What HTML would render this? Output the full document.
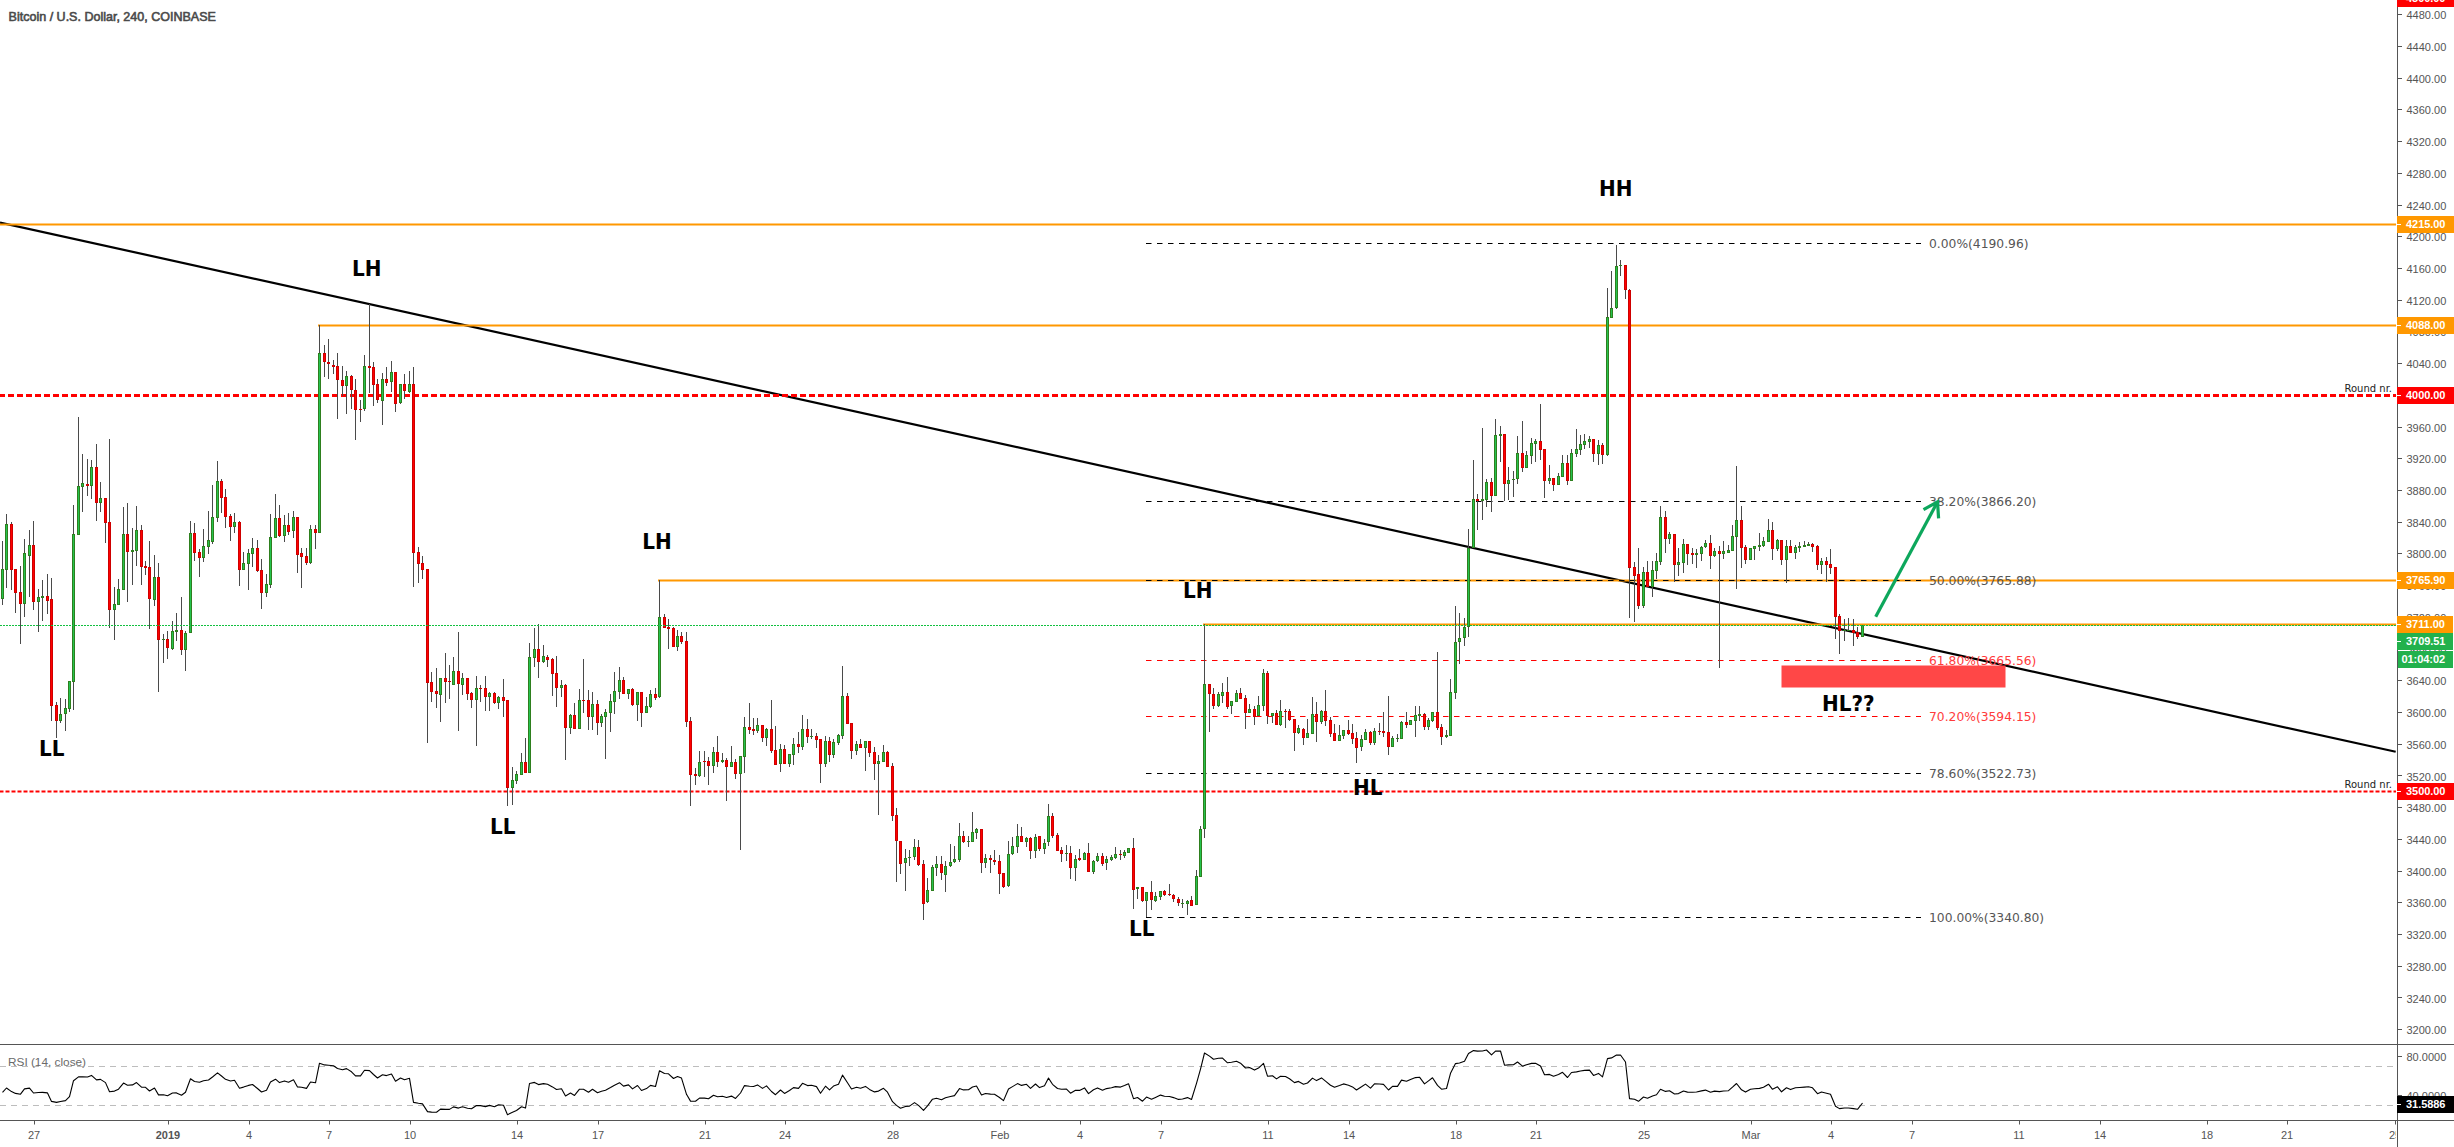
<!DOCTYPE html>
<html lang="en"><head><meta charset="utf-8"><title>Bitcoin / U.S. Dollar, 240, COINBASE</title>
<style>html,body{margin:0;padding:0;background:#fff;}body{width:2454px;height:1147px;overflow:hidden;}</style></head>
<body>
<svg width="2454" height="1147" viewBox="0 0 2454 1147" style="display:block">
<rect x="0" y="0" width="2454" height="1147" fill="#ffffff"/>
<line x1="0" y1="222.5" x2="2395.7" y2="751.8" stroke="#000" stroke-width="2.2"/>
<line x1="0" y1="224.5" x2="2396" y2="224.5" stroke="#FF9800" stroke-width="2"/>
<line x1="318" y1="325.5" x2="2396" y2="325.5" stroke="#FF9800" stroke-width="2"/>
<line x1="658" y1="580.5" x2="2396" y2="580.5" stroke="#FF9800" stroke-width="2"/>
<line x1="1203" y1="624.5" x2="2396" y2="624.5" stroke="#FF9800" stroke-width="2"/>
<line x1="0" y1="395.5" x2="2396" y2="395.5" stroke="#FF0000" stroke-width="3" stroke-dasharray="6 3" stroke-dashoffset="1"/>
<line x1="0" y1="791.5" x2="2396" y2="791.5" stroke="#FF0000" stroke-width="2" stroke-dasharray="4 2" stroke-dashoffset="0.5"/>
<line x1="1146" y1="243.5" x2="1921" y2="243.5" stroke="#000" stroke-width="1" stroke-dasharray="5.5 5.5"/>
<text x="1929" y="247.7" font-family="'DejaVu Sans','Liberation Sans',sans-serif" font-size="12.3" fill="#555">0.00%(4190.96)</text>
<line x1="1146" y1="501.5" x2="1921" y2="501.5" stroke="#000" stroke-width="1" stroke-dasharray="5.5 5.5"/>
<text x="1929" y="505.7" font-family="'DejaVu Sans','Liberation Sans',sans-serif" font-size="12.3" fill="#555">38.20%(3866.20)</text>
<line x1="1146" y1="580.5" x2="1921" y2="580.5" stroke="#000" stroke-width="1" stroke-dasharray="5.5 5.5"/>
<text x="1929" y="584.7" font-family="'DejaVu Sans','Liberation Sans',sans-serif" font-size="12.3" fill="#555">50.00%(3765.88)</text>
<line x1="1146" y1="660.5" x2="1921" y2="660.5" stroke="#FF0000" stroke-width="1" stroke-dasharray="5.5 5.5"/>
<text x="1929" y="664.7" font-family="'DejaVu Sans','Liberation Sans',sans-serif" font-size="12.3" fill="#FF3B3B">61.80%(3665.56)</text>
<line x1="1146" y1="716.5" x2="1921" y2="716.5" stroke="#FF0000" stroke-width="1" stroke-dasharray="5.5 5.5"/>
<text x="1929" y="720.7" font-family="'DejaVu Sans','Liberation Sans',sans-serif" font-size="12.3" fill="#FF3B3B">70.20%(3594.15)</text>
<line x1="1146" y1="773.5" x2="1921" y2="773.5" stroke="#000" stroke-width="1" stroke-dasharray="5.5 5.5"/>
<text x="1929" y="777.7" font-family="'DejaVu Sans','Liberation Sans',sans-serif" font-size="12.3" fill="#555">78.60%(3522.73)</text>
<line x1="1146" y1="917.5" x2="1921" y2="917.5" stroke="#000" stroke-width="1" stroke-dasharray="5.5 5.5"/>
<text x="1929" y="921.7" font-family="'DejaVu Sans','Liberation Sans',sans-serif" font-size="12.3" fill="#555">100.00%(3340.80)</text>
<rect x="1781.5" y="665.5" width="224" height="22" fill="#FF4747"/>
<path d="M2.5 541.0V605.0M6.5 514.0V588.0M11.5 522.0V590.0M15.5 569.0V613.0M20.5 566.0V644.0M24.5 539.0V617.0M29.5 530.0V597.0M33.5 521.0V610.0M38.5 589.0V632.0M42.5 580.0V621.0M47.5 574.0V614.0M51.5 578.0V721.0M56.5 702.0V738.0M60.5 698.0V723.0M65.5 699.0V731.0M69.5 681.0V712.0M73.5 505.0V710.0M78.5 417.0V535.0M82.5 454.0V512.0M87.5 459.0V496.0M91.5 460.0V499.0M96.5 444.0V521.0M100.5 482.0V512.0M105.5 498.0V543.0M109.5 439.0V628.0M114.5 587.0V640.0M118.5 579.0V605.0M123.5 507.0V590.0M127.5 503.0V602.0M132.5 528.0V585.0M136.5 506.0V566.0M141.5 525.0V585.0M145.5 561.0V575.0M149.5 541.0V629.0M154.5 555.0V606.0M158.5 563.0V692.0M163.5 634.0V663.0M167.5 631.0V659.0M172.5 621.0V650.0M176.5 613.0V641.0M181.5 597.0V655.0M185.5 631.0V671.0M190.5 521.0V633.0M194.5 523.0V561.0M199.5 549.0V577.0M203.5 529.0V562.0M208.5 511.0V554.0M212.5 485.0V544.0M217.5 461.0V522.0M221.5 479.0V513.0M225.5 489.0V528.0M230.5 514.0V541.0M234.5 513.0V533.0M239.5 521.0V586.0M243.5 552.0V570.0M248.5 549.0V590.0M252.5 538.0V567.0M257.5 540.0V572.0M261.5 559.0V609.0M266.5 574.0V597.0M270.5 514.0V588.0M275.5 494.0V538.0M279.5 505.0V537.0M284.5 515.0V542.0M288.5 513.0V535.0M293.5 511.0V538.0M297.5 517.0V573.0M301.5 548.0V588.0M306.5 548.0V565.0M310.5 525.0V564.0M315.5 525.0V549.0M319.5 325.0V533.0M324.5 345.0V377.0M328.5 339.0V379.0M333.5 360.0V374.0M337.5 353.0V419.0M342.5 366.0V396.0M346.5 371.0V414.0M351.5 375.0V409.0M355.5 379.0V440.0M360.5 400.0V422.0M364.5 355.0V411.0M369.5 304.0V393.0M373.5 362.0V406.0M377.5 379.0V403.0M382.5 373.0V425.0M386.5 367.0V386.0M391.5 361.0V392.0M395.5 372.0V412.0M400.5 384.0V404.0M404.5 374.0V399.0M409.5 371.0V393.0M413.5 367.0V587.0M418.5 547.0V583.0M422.5 556.0V579.0M427.5 569.0V743.0M431.5 672.0V702.0M436.5 668.0V708.0M440.5 678.0V722.0M445.5 653.0V703.0M449.5 665.0V699.0M453.5 657.0V685.0M458.5 632.0V731.0M462.5 673.0V695.0M467.5 678.0V700.0M471.5 692.0V708.0M476.5 676.0V746.0M480.5 685.0V702.0M485.5 676.0V711.0M489.5 692.0V711.0M494.5 692.0V704.0M498.5 696.0V709.0M503.5 679.0V717.0M507.5 700.0V806.0M512.5 767.0V805.0M516.5 771.0V784.0M521.5 753.0V775.0M525.5 738.0V773.0M529.5 643.0V773.0M534.5 628.0V667.0M538.5 624.0V678.0M543.5 645.0V663.0M547.5 655.0V667.0M552.5 658.0V696.0M556.5 656.0V707.0M561.5 680.0V697.0M565.5 684.0V760.0M570.5 714.0V734.0M574.5 703.0V729.0M579.5 689.0V729.0M583.5 659.0V713.0M588.5 690.0V730.0M592.5 692.0V730.0M597.5 700.0V735.0M601.5 714.0V727.0M605.5 709.0V759.0M610.5 694.0V732.0M614.5 672.0V714.0M619.5 667.0V699.0M623.5 677.0V694.0M628.5 689.0V699.0M632.5 688.0V706.0M637.5 692.0V721.0M641.5 692.0V727.0M646.5 697.0V713.0M650.5 690.0V708.0M655.5 688.0V700.0M659.5 580.0V698.0M664.5 614.0V628.0M668.5 619.0V649.0M673.5 627.0V647.0M677.5 630.0V651.0M681.5 632.0V644.0M686.5 632.0V727.0M690.5 717.0V806.0M695.5 768.0V785.0M699.5 751.0V777.0M704.5 751.0V777.0M708.5 757.0V785.0M713.5 747.0V773.0M717.5 736.0V767.0M722.5 753.0V763.0M726.5 758.0V801.0M731.5 746.0V767.0M735.5 759.0V779.0M740.5 756.0V850.0M744.5 717.0V773.0M749.5 703.0V734.0M753.5 718.0V735.0M757.5 718.0V733.0M762.5 725.0V742.0M766.5 728.0V746.0M771.5 700.0V753.0M775.5 726.0V765.0M780.5 744.0V772.0M784.5 745.0V764.0M789.5 754.0V767.0M793.5 738.0V765.0M798.5 732.0V753.0M802.5 715.0V750.0M807.5 719.0V743.0M811.5 729.0V739.0M816.5 733.0V748.0M820.5 739.0V783.0M825.5 736.0V767.0M829.5 737.0V762.0M833.5 739.0V758.0M838.5 734.0V745.0M842.5 666.0V739.0M847.5 693.0V724.0M851.5 723.0V759.0M856.5 741.0V755.0M860.5 739.0V748.0M865.5 741.0V771.0M869.5 741.0V757.0M874.5 747.0V780.0M878.5 755.0V815.0M883.5 745.0V762.0M887.5 751.0V767.0M892.5 763.0V821.0M896.5 808.0V882.0M900.5 841.0V874.0M905.5 849.0V891.0M909.5 850.0V866.0M914.5 839.0V860.0M918.5 840.0V866.0M923.5 860.0V920.0M927.5 878.0V903.0M932.5 865.0V891.0M936.5 856.0V876.0M941.5 856.0V880.0M945.5 861.0V892.0M950.5 844.0V867.0M954.5 846.0V863.0M959.5 823.0V862.0M963.5 831.0V843.0M968.5 836.0V847.0M972.5 812.0V842.0M976.5 828.0V839.0M981.5 829.0V873.0M985.5 854.0V868.0M990.5 855.0V873.0M994.5 850.0V865.0M999.5 855.0V894.0M1003.5 873.0V888.0M1008.5 841.0V887.0M1012.5 837.0V855.0M1017.5 824.0V853.0M1021.5 827.0V842.0M1026.5 837.0V847.0M1030.5 837.0V859.0M1035.5 834.0V858.0M1039.5 836.0V851.0M1044.5 839.0V854.0M1048.5 804.0V846.0M1052.5 813.0V838.0M1057.5 833.0V851.0M1061.5 847.0V862.0M1066.5 845.0V861.0M1070.5 846.0V879.0M1075.5 855.0V881.0M1079.5 849.0V861.0M1084.5 852.0V860.0M1088.5 843.0V872.0M1093.5 860.0V874.0M1097.5 853.0V862.0M1102.5 853.0V866.0M1106.5 856.0V870.0M1111.5 855.0V861.0M1115.5 847.0V859.0M1120.5 850.0V860.0M1124.5 850.0V858.0M1128.5 848.0V853.0M1133.5 838.0V909.0M1137.5 887.0V899.0M1142.5 887.0V902.0M1146.5 892.0V917.0M1151.5 881.0V910.0M1155.5 892.0V902.0M1160.5 891.0V900.0M1164.5 890.0V896.0M1169.5 884.0V896.0M1173.5 894.0V902.0M1178.5 897.0V906.0M1182.5 899.0V908.0M1187.5 900.0V915.0M1191.5 896.0V906.0M1196.5 870.0V905.0M1200.5 826.0V877.0M1204.5 624.0V838.0M1209.5 684.0V732.0M1213.5 688.0V709.0M1218.5 692.0V707.0M1222.5 683.0V703.0M1227.5 677.0V709.0M1231.5 701.0V714.0M1236.5 690.0V702.0M1240.5 688.0V699.0M1245.5 695.0V729.0M1249.5 704.0V713.0M1254.5 706.0V725.0M1258.5 696.0V716.0M1263.5 669.0V711.0M1267.5 671.0V724.0M1272.5 713.0V723.0M1276.5 710.0V725.0M1280.5 700.0V726.0M1285.5 709.0V728.0M1289.5 709.0V721.0M1294.5 719.0V751.0M1298.5 725.0V734.0M1303.5 728.0V745.0M1307.5 719.0V738.0M1312.5 697.0V734.0M1316.5 702.0V742.0M1321.5 710.0V724.0M1325.5 690.0V726.0M1330.5 717.0V737.0M1334.5 724.0V741.0M1339.5 725.0V741.0M1343.5 730.0V739.0M1348.5 720.0V735.0M1352.5 724.0V744.0M1356.5 732.0V763.0M1361.5 735.0V751.0M1365.5 729.0V740.0M1370.5 731.0V745.0M1374.5 728.0V745.0M1379.5 723.0V735.0M1383.5 712.0V737.0M1388.5 696.0V755.0M1392.5 736.0V747.0M1397.5 734.0V742.0M1401.5 721.0V739.0M1406.5 712.0V728.0M1410.5 720.0V725.0M1415.5 706.0V737.0M1419.5 706.0V721.0M1424.5 713.0V730.0M1428.5 718.0V730.0M1432.5 712.0V722.0M1437.5 652.0V730.0M1441.5 724.0V745.0M1446.5 730.0V738.0M1450.5 679.0V736.0M1455.5 606.0V699.0M1459.5 613.0V664.0M1464.5 618.0V646.0M1468.5 529.0V637.0M1473.5 460.0V548.0M1477.5 494.0V530.0M1482.5 428.0V520.0M1486.5 479.0V507.0M1491.5 478.0V512.0M1495.5 419.0V496.0M1500.5 426.0V462.0M1504.5 434.0V501.0M1508.5 467.0V500.0M1513.5 471.0V497.0M1517.5 436.0V484.0M1522.5 421.0V472.0M1526.5 451.0V468.0M1531.5 438.0V464.0M1535.5 439.0V462.0M1540.5 404.0V460.0M1544.5 449.0V498.0M1549.5 465.0V484.0M1553.5 478.0V491.0M1558.5 473.0V485.0M1562.5 455.0V477.0M1567.5 455.0V485.0M1571.5 449.0V481.0M1576.5 429.0V457.0M1580.5 435.0V455.0M1584.5 434.0V449.0M1589.5 436.0V448.0M1593.5 439.0V462.0M1598.5 440.0V465.0M1602.5 443.0V464.0M1607.5 288.0V456.0M1611.5 271.0V318.0M1616.5 245.0V309.0M1620.5 260.0V276.0M1625.5 265.0V299.0M1629.5 289.0V618.0M1634.5 562.0V622.0M1638.5 548.0V609.0M1643.5 567.0V608.0M1647.5 561.0V587.0M1652.5 561.0V597.0M1656.5 553.0V579.0M1660.5 506.0V565.0M1665.5 511.0V553.0M1669.5 532.0V544.0M1674.5 534.0V582.0M1678.5 548.0V576.0M1683.5 539.0V573.0M1687.5 544.0V565.0M1692.5 548.0V564.0M1696.5 549.0V568.0M1701.5 546.0V561.0M1705.5 540.0V548.0M1710.5 535.0V569.0M1714.5 548.0V557.0M1719.5 546.0V668.0M1723.5 541.0V559.0M1728.5 545.0V553.0M1732.5 525.0V551.0M1736.5 466.0V589.0M1741.5 506.0V568.0M1745.5 545.0V564.0M1750.5 548.0V560.0M1754.5 546.0V560.0M1759.5 533.0V551.0M1763.5 537.0V547.0M1768.5 519.0V542.0M1772.5 522.0V560.0M1777.5 539.0V551.0M1781.5 540.0V565.0M1786.5 540.0V583.0M1790.5 540.0V553.0M1795.5 545.0V559.0M1799.5 542.0V552.0M1804.5 541.0V547.0M1808.5 542.0V546.0M1812.5 543.0V552.0M1817.5 545.0V570.0M1821.5 558.0V574.0M1826.5 557.0V582.0M1830.5 549.0V574.0M1835.5 567.0V639.0M1839.5 614.0V654.0M1844.5 619.0V641.0M1848.5 618.0V631.0M1853.5 619.0V646.0M1857.5 627.0V639.0M1862.5 625.0V637.0" stroke="#4a4a4a" stroke-width="1" fill="none"/>
<path d="M1.0 569.0h3v30.0h-3zM5.0 524.0h3v46.0h-3zM23.0 553.0h3v51.0h-3zM28.0 545.0h3v11.0h-3zM37.0 597.0h3v5.0h-3zM41.0 596.0h3v2.0h-3zM59.0 714.0h3v7.0h-3zM64.0 708.0h3v6.0h-3zM68.0 681.0h3v28.0h-3zM72.0 534.0h3v148.0h-3zM77.0 486.0h3v49.0h-3zM81.0 483.0h3v4.0h-3zM90.0 467.0h3v19.0h-3zM99.0 498.0h3v5.0h-3zM113.0 604.0h3v6.0h-3zM117.0 589.0h3v16.0h-3zM122.0 534.0h3v56.0h-3zM131.0 550.0h3v2.0h-3zM135.0 530.0h3v21.0h-3zM153.0 577.0h3v23.0h-3zM162.0 639.0h3v1.0h-3zM171.0 631.0h3v18.0h-3zM175.0 630.0h3v2.0h-3zM184.0 633.0h3v17.0h-3zM189.0 533.0h3v100.0h-3zM202.0 546.0h3v12.0h-3zM207.0 540.0h3v7.0h-3zM211.0 517.0h3v25.0h-3zM216.0 481.0h3v37.0h-3zM233.0 522.0h3v5.0h-3zM242.0 563.0h3v7.0h-3zM247.0 553.0h3v11.0h-3zM251.0 548.0h3v6.0h-3zM265.0 584.0h3v9.0h-3zM269.0 537.0h3v48.0h-3zM274.0 518.0h3v20.0h-3zM283.0 525.0h3v11.0h-3zM292.0 517.0h3v14.0h-3zM309.0 529.0h3v34.0h-3zM318.0 353.0h3v180.0h-3zM345.0 376.0h3v10.0h-3zM363.0 366.0h3v43.0h-3zM381.0 379.0h3v22.0h-3zM390.0 372.0h3v10.0h-3zM399.0 384.0h3v19.0h-3zM408.0 384.0h3v8.0h-3zM439.0 678.0h3v17.0h-3zM452.0 671.0h3v14.0h-3zM461.0 678.0h3v7.0h-3zM475.0 688.0h3v12.0h-3zM488.0 693.0h3v4.0h-3zM497.0 697.0h3v6.0h-3zM511.0 780.0h3v8.0h-3zM515.0 774.0h3v7.0h-3zM520.0 762.0h3v13.0h-3zM528.0 657.0h3v116.0h-3zM533.0 649.0h3v9.0h-3zM542.0 656.0h3v6.0h-3zM560.0 685.0h3v3.0h-3zM569.0 715.0h3v13.0h-3zM578.0 700.0h3v29.0h-3zM591.0 704.0h3v13.0h-3zM600.0 716.0h3v7.0h-3zM604.0 712.0h3v5.0h-3zM609.0 701.0h3v12.0h-3zM613.0 691.0h3v11.0h-3zM618.0 680.0h3v12.0h-3zM627.0 689.0h3v5.0h-3zM636.0 692.0h3v13.0h-3zM645.0 706.0h3v7.0h-3zM649.0 694.0h3v13.0h-3zM658.0 617.0h3v80.0h-3zM676.0 636.0h3v11.0h-3zM698.0 762.0h3v14.0h-3zM712.0 752.0h3v14.0h-3zM721.0 760.0h3v2.0h-3zM730.0 762.0h3v5.0h-3zM739.0 756.0h3v18.0h-3zM743.0 727.0h3v30.0h-3zM756.0 725.0h3v6.0h-3zM765.0 729.0h3v9.0h-3zM779.0 749.0h3v15.0h-3zM788.0 754.0h3v10.0h-3zM792.0 744.0h3v11.0h-3zM801.0 729.0h3v18.0h-3zM810.0 736.0h3v1.0h-3zM824.0 741.0h3v23.0h-3zM832.0 742.0h3v13.0h-3zM837.0 735.0h3v8.0h-3zM841.0 696.0h3v40.0h-3zM855.0 744.0h3v7.0h-3zM864.0 741.0h3v7.0h-3zM877.0 761.0h3v3.0h-3zM882.0 752.0h3v10.0h-3zM904.0 858.0h3v5.0h-3zM908.0 857.0h3v1.0h-3zM913.0 847.0h3v10.0h-3zM926.0 890.0h3v12.0h-3zM931.0 867.0h3v24.0h-3zM935.0 864.0h3v4.0h-3zM944.0 866.0h3v9.0h-3zM949.0 862.0h3v4.0h-3zM953.0 859.0h3v3.0h-3zM958.0 836.0h3v24.0h-3zM967.0 841.0h3v1.0h-3zM971.0 832.0h3v10.0h-3zM975.0 829.0h3v4.0h-3zM984.0 858.0h3v5.0h-3zM1007.0 854.0h3v32.0h-3zM1011.0 846.0h3v8.0h-3zM1016.0 836.0h3v11.0h-3zM1025.0 838.0h3v4.0h-3zM1034.0 837.0h3v14.0h-3zM1043.0 843.0h3v6.0h-3zM1047.0 816.0h3v26.0h-3zM1065.0 853.0h3v1.0h-3zM1074.0 859.0h3v9.0h-3zM1083.0 853.0h3v7.0h-3zM1092.0 861.0h3v11.0h-3zM1096.0 856.0h3v5.0h-3zM1105.0 859.0h3v4.0h-3zM1110.0 857.0h3v3.0h-3zM1114.0 854.0h3v4.0h-3zM1123.0 852.0h3v4.0h-3zM1127.0 848.0h3v5.0h-3zM1136.0 887.0h3v2.0h-3zM1145.0 892.0h3v9.0h-3zM1154.0 896.0h3v5.0h-3zM1159.0 891.0h3v6.0h-3zM1181.0 903.0h3v1.0h-3zM1186.0 901.0h3v3.0h-3zM1195.0 876.0h3v29.0h-3zM1199.0 829.0h3v48.0h-3zM1203.0 684.0h3v145.0h-3zM1217.0 694.0h3v12.0h-3zM1221.0 692.0h3v4.0h-3zM1230.0 701.0h3v5.0h-3zM1235.0 693.0h3v9.0h-3zM1248.0 709.0h3v4.0h-3zM1257.0 705.0h3v11.0h-3zM1262.0 673.0h3v33.0h-3zM1271.0 713.0h3v3.0h-3zM1279.0 711.0h3v14.0h-3zM1297.0 728.0h3v5.0h-3zM1306.0 733.0h3v5.0h-3zM1311.0 714.0h3v20.0h-3zM1320.0 711.0h3v11.0h-3zM1338.0 735.0h3v6.0h-3zM1342.0 730.0h3v6.0h-3zM1360.0 739.0h3v8.0h-3zM1364.0 732.0h3v8.0h-3zM1373.0 731.0h3v12.0h-3zM1391.0 738.0h3v9.0h-3zM1396.0 738.0h3v1.0h-3zM1400.0 722.0h3v17.0h-3zM1409.0 720.0h3v5.0h-3zM1414.0 715.0h3v6.0h-3zM1418.0 714.0h3v2.0h-3zM1427.0 720.0h3v7.0h-3zM1431.0 712.0h3v9.0h-3zM1445.0 735.0h3v2.0h-3zM1449.0 692.0h3v44.0h-3zM1454.0 642.0h3v51.0h-3zM1458.0 638.0h3v4.0h-3zM1463.0 627.0h3v11.0h-3zM1467.0 548.0h3v79.0h-3zM1472.0 499.0h3v49.0h-3zM1481.0 499.0h3v2.0h-3zM1485.0 482.0h3v18.0h-3zM1494.0 435.0h3v61.0h-3zM1499.0 434.0h3v2.0h-3zM1507.0 480.0h3v4.0h-3zM1512.0 479.0h3v1.0h-3zM1516.0 453.0h3v26.0h-3zM1525.0 455.0h3v13.0h-3zM1530.0 443.0h3v13.0h-3zM1534.0 441.0h3v3.0h-3zM1548.0 478.0h3v3.0h-3zM1557.0 476.0h3v9.0h-3zM1561.0 463.0h3v14.0h-3zM1570.0 453.0h3v28.0h-3zM1575.0 449.0h3v5.0h-3zM1579.0 444.0h3v6.0h-3zM1583.0 441.0h3v4.0h-3zM1588.0 439.0h3v3.0h-3zM1597.0 445.0h3v9.0h-3zM1606.0 317.0h3v138.0h-3zM1610.0 308.0h3v10.0h-3zM1615.0 266.0h3v42.0h-3zM1619.0 265.0h3v1.0h-3zM1642.0 572.0h3v34.0h-3zM1651.0 570.0h3v17.0h-3zM1655.0 561.0h3v10.0h-3zM1659.0 517.0h3v45.0h-3zM1668.0 534.0h3v5.0h-3zM1677.0 562.0h3v3.0h-3zM1682.0 544.0h3v19.0h-3zM1695.0 553.0h3v2.0h-3zM1700.0 547.0h3v7.0h-3zM1704.0 543.0h3v4.0h-3zM1713.0 551.0h3v5.0h-3zM1722.0 551.0h3v3.0h-3zM1727.0 550.0h3v3.0h-3zM1731.0 536.0h3v15.0h-3zM1735.0 520.0h3v17.0h-3zM1749.0 548.0h3v12.0h-3zM1753.0 546.0h3v3.0h-3zM1758.0 545.0h3v2.0h-3zM1762.0 541.0h3v5.0h-3zM1767.0 530.0h3v12.0h-3zM1776.0 540.0h3v9.0h-3zM1785.0 546.0h3v14.0h-3zM1794.0 547.0h3v6.0h-3zM1798.0 546.0h3v2.0h-3zM1803.0 545.0h3v2.0h-3zM1807.0 544.0h3v2.0h-3zM1820.0 561.0h3v4.0h-3zM1843.0 630.0h3v1.0h-3zM1847.0 630.0h3v1.0h-3zM1861.0 625.0h3v12.0h-3z" fill="#2E7F1E"/>
<path d="M2.0 570.0h1v28.0h-1zM6.0 525.0h1v44.0h-1zM24.0 554.0h1v49.0h-1zM29.0 546.0h1v9.0h-1zM38.0 598.0h1v3.0h-1zM60.0 715.0h1v5.0h-1zM65.0 709.0h1v4.0h-1zM69.0 682.0h1v26.0h-1zM73.0 535.0h1v146.0h-1zM78.0 487.0h1v47.0h-1zM82.0 484.0h1v2.0h-1zM91.0 468.0h1v17.0h-1zM100.0 499.0h1v3.0h-1zM114.0 605.0h1v4.0h-1zM118.0 590.0h1v14.0h-1zM123.0 535.0h1v54.0h-1zM136.0 531.0h1v19.0h-1zM154.0 578.0h1v21.0h-1zM172.0 632.0h1v16.0h-1zM185.0 634.0h1v15.0h-1zM190.0 534.0h1v98.0h-1zM203.0 547.0h1v10.0h-1zM208.0 541.0h1v5.0h-1zM212.0 518.0h1v23.0h-1zM217.0 482.0h1v35.0h-1zM234.0 523.0h1v3.0h-1zM243.0 564.0h1v5.0h-1zM248.0 554.0h1v9.0h-1zM252.0 549.0h1v4.0h-1zM266.0 585.0h1v7.0h-1zM270.0 538.0h1v46.0h-1zM275.0 519.0h1v18.0h-1zM284.0 526.0h1v9.0h-1zM293.0 518.0h1v12.0h-1zM310.0 530.0h1v32.0h-1zM319.0 354.0h1v178.0h-1zM346.0 377.0h1v8.0h-1zM364.0 367.0h1v41.0h-1zM382.0 380.0h1v20.0h-1zM391.0 373.0h1v8.0h-1zM400.0 385.0h1v17.0h-1zM409.0 385.0h1v6.0h-1zM440.0 679.0h1v15.0h-1zM453.0 672.0h1v12.0h-1zM462.0 679.0h1v5.0h-1zM476.0 689.0h1v10.0h-1zM489.0 694.0h1v2.0h-1zM498.0 698.0h1v4.0h-1zM512.0 781.0h1v6.0h-1zM516.0 775.0h1v5.0h-1zM521.0 763.0h1v11.0h-1zM529.0 658.0h1v114.0h-1zM534.0 650.0h1v7.0h-1zM543.0 657.0h1v4.0h-1zM561.0 686.0h1v1.0h-1zM570.0 716.0h1v11.0h-1zM579.0 701.0h1v27.0h-1zM592.0 705.0h1v11.0h-1zM601.0 717.0h1v5.0h-1zM605.0 713.0h1v3.0h-1zM610.0 702.0h1v10.0h-1zM614.0 692.0h1v9.0h-1zM619.0 681.0h1v10.0h-1zM628.0 690.0h1v3.0h-1zM637.0 693.0h1v11.0h-1zM646.0 707.0h1v5.0h-1zM650.0 695.0h1v11.0h-1zM659.0 618.0h1v78.0h-1zM677.0 637.0h1v9.0h-1zM699.0 763.0h1v12.0h-1zM713.0 753.0h1v12.0h-1zM731.0 763.0h1v3.0h-1zM740.0 757.0h1v16.0h-1zM744.0 728.0h1v28.0h-1zM757.0 726.0h1v4.0h-1zM766.0 730.0h1v7.0h-1zM780.0 750.0h1v13.0h-1zM789.0 755.0h1v8.0h-1zM793.0 745.0h1v9.0h-1zM802.0 730.0h1v16.0h-1zM825.0 742.0h1v21.0h-1zM833.0 743.0h1v11.0h-1zM838.0 736.0h1v6.0h-1zM842.0 697.0h1v38.0h-1zM856.0 745.0h1v5.0h-1zM865.0 742.0h1v5.0h-1zM878.0 762.0h1v1.0h-1zM883.0 753.0h1v8.0h-1zM905.0 859.0h1v3.0h-1zM914.0 848.0h1v8.0h-1zM927.0 891.0h1v10.0h-1zM932.0 868.0h1v22.0h-1zM936.0 865.0h1v2.0h-1zM945.0 867.0h1v7.0h-1zM950.0 863.0h1v2.0h-1zM954.0 860.0h1v1.0h-1zM959.0 837.0h1v22.0h-1zM972.0 833.0h1v8.0h-1zM976.0 830.0h1v2.0h-1zM985.0 859.0h1v3.0h-1zM1008.0 855.0h1v30.0h-1zM1012.0 847.0h1v6.0h-1zM1017.0 837.0h1v9.0h-1zM1026.0 839.0h1v2.0h-1zM1035.0 838.0h1v12.0h-1zM1044.0 844.0h1v4.0h-1zM1048.0 817.0h1v24.0h-1zM1075.0 860.0h1v7.0h-1zM1084.0 854.0h1v5.0h-1zM1093.0 862.0h1v9.0h-1zM1097.0 857.0h1v3.0h-1zM1106.0 860.0h1v2.0h-1zM1111.0 858.0h1v1.0h-1zM1115.0 855.0h1v2.0h-1zM1124.0 853.0h1v2.0h-1zM1128.0 849.0h1v3.0h-1zM1146.0 893.0h1v7.0h-1zM1155.0 897.0h1v3.0h-1zM1160.0 892.0h1v4.0h-1zM1187.0 902.0h1v1.0h-1zM1196.0 877.0h1v27.0h-1zM1200.0 830.0h1v46.0h-1zM1204.0 685.0h1v143.0h-1zM1218.0 695.0h1v10.0h-1zM1222.0 693.0h1v2.0h-1zM1231.0 702.0h1v3.0h-1zM1236.0 694.0h1v7.0h-1zM1249.0 710.0h1v2.0h-1zM1258.0 706.0h1v9.0h-1zM1263.0 674.0h1v31.0h-1zM1272.0 714.0h1v1.0h-1zM1280.0 712.0h1v12.0h-1zM1298.0 729.0h1v3.0h-1zM1307.0 734.0h1v3.0h-1zM1312.0 715.0h1v18.0h-1zM1321.0 712.0h1v9.0h-1zM1339.0 736.0h1v4.0h-1zM1343.0 731.0h1v4.0h-1zM1361.0 740.0h1v6.0h-1zM1365.0 733.0h1v6.0h-1zM1374.0 732.0h1v10.0h-1zM1392.0 739.0h1v7.0h-1zM1401.0 723.0h1v15.0h-1zM1410.0 721.0h1v3.0h-1zM1415.0 716.0h1v4.0h-1zM1428.0 721.0h1v5.0h-1zM1432.0 713.0h1v7.0h-1zM1450.0 693.0h1v42.0h-1zM1455.0 643.0h1v49.0h-1zM1459.0 639.0h1v2.0h-1zM1464.0 628.0h1v9.0h-1zM1468.0 549.0h1v77.0h-1zM1473.0 500.0h1v47.0h-1zM1486.0 483.0h1v16.0h-1zM1495.0 436.0h1v59.0h-1zM1508.0 481.0h1v2.0h-1zM1517.0 454.0h1v24.0h-1zM1526.0 456.0h1v11.0h-1zM1531.0 444.0h1v11.0h-1zM1535.0 442.0h1v1.0h-1zM1549.0 479.0h1v1.0h-1zM1558.0 477.0h1v7.0h-1zM1562.0 464.0h1v12.0h-1zM1571.0 454.0h1v26.0h-1zM1576.0 450.0h1v3.0h-1zM1580.0 445.0h1v4.0h-1zM1584.0 442.0h1v2.0h-1zM1589.0 440.0h1v1.0h-1zM1598.0 446.0h1v7.0h-1zM1607.0 318.0h1v136.0h-1zM1611.0 309.0h1v8.0h-1zM1616.0 267.0h1v40.0h-1zM1643.0 573.0h1v32.0h-1zM1652.0 571.0h1v15.0h-1zM1656.0 562.0h1v8.0h-1zM1660.0 518.0h1v43.0h-1zM1669.0 535.0h1v3.0h-1zM1678.0 563.0h1v1.0h-1zM1683.0 545.0h1v17.0h-1zM1701.0 548.0h1v5.0h-1zM1705.0 544.0h1v2.0h-1zM1714.0 552.0h1v3.0h-1zM1723.0 552.0h1v1.0h-1zM1728.0 551.0h1v1.0h-1zM1732.0 537.0h1v13.0h-1zM1736.0 521.0h1v15.0h-1zM1750.0 549.0h1v10.0h-1zM1754.0 547.0h1v1.0h-1zM1763.0 542.0h1v3.0h-1zM1768.0 531.0h1v10.0h-1zM1777.0 541.0h1v7.0h-1zM1786.0 547.0h1v12.0h-1zM1795.0 548.0h1v4.0h-1zM1821.0 562.0h1v2.0h-1zM1862.0 626.0h1v10.0h-1z" fill="#24C34E"/>
<path d="M10.0 524.0h3v46.0h-3zM14.0 569.0h3v24.0h-3zM19.0 592.0h3v12.0h-3zM32.0 545.0h3v57.0h-3zM46.0 596.0h3v5.0h-3zM50.0 599.0h3v107.0h-3zM55.0 705.0h3v16.0h-3zM86.0 484.0h3v2.0h-3zM95.0 467.0h3v36.0h-3zM104.0 498.0h3v25.0h-3zM108.0 522.0h3v88.0h-3zM126.0 534.0h3v18.0h-3zM140.0 530.0h3v37.0h-3zM144.0 566.0h3v2.0h-3zM148.0 567.0h3v32.0h-3zM157.0 577.0h3v63.0h-3zM166.0 639.0h3v9.0h-3zM180.0 630.0h3v20.0h-3zM193.0 533.0h3v20.0h-3zM198.0 552.0h3v6.0h-3zM220.0 481.0h3v17.0h-3zM224.0 497.0h3v20.0h-3zM229.0 516.0h3v11.0h-3zM238.0 522.0h3v48.0h-3zM256.0 548.0h3v23.0h-3zM260.0 570.0h3v23.0h-3zM278.0 518.0h3v18.0h-3zM287.0 525.0h3v7.0h-3zM296.0 517.0h3v38.0h-3zM300.0 553.0h3v4.0h-3zM305.0 556.0h3v7.0h-3zM314.0 529.0h3v4.0h-3zM323.0 353.0h3v9.0h-3zM327.0 362.0h3v2.0h-3zM332.0 365.0h3v2.0h-3zM336.0 366.0h3v14.0h-3zM341.0 380.0h3v6.0h-3zM350.0 376.0h3v14.0h-3zM354.0 390.0h3v20.0h-3zM359.0 409.0h3v1.0h-3zM368.0 366.0h3v2.0h-3zM372.0 367.0h3v18.0h-3zM376.0 384.0h3v16.0h-3zM385.0 379.0h3v4.0h-3zM394.0 372.0h3v32.0h-3zM403.0 384.0h3v7.0h-3zM412.0 384.0h3v169.0h-3zM417.0 552.0h3v12.0h-3zM421.0 563.0h3v7.0h-3zM426.0 569.0h3v114.0h-3zM430.0 682.0h3v10.0h-3zM435.0 691.0h3v3.0h-3zM444.0 678.0h3v4.0h-3zM448.0 681.0h3v1.0h-3zM457.0 671.0h3v13.0h-3zM466.0 678.0h3v16.0h-3zM470.0 693.0h3v7.0h-3zM479.0 688.0h3v1.0h-3zM484.0 688.0h3v9.0h-3zM493.0 693.0h3v10.0h-3zM502.0 697.0h3v4.0h-3zM506.0 700.0h3v88.0h-3zM524.0 762.0h3v11.0h-3zM537.0 649.0h3v13.0h-3zM546.0 657.0h3v3.0h-3zM551.0 659.0h3v15.0h-3zM555.0 673.0h3v15.0h-3zM564.0 685.0h3v43.0h-3zM573.0 715.0h3v14.0h-3zM582.0 700.0h3v1.0h-3zM587.0 700.0h3v17.0h-3zM596.0 704.0h3v19.0h-3zM622.0 680.0h3v14.0h-3zM631.0 689.0h3v16.0h-3zM640.0 692.0h3v21.0h-3zM654.0 694.0h3v4.0h-3zM663.0 617.0h3v11.0h-3zM667.0 627.0h3v2.0h-3zM672.0 628.0h3v19.0h-3zM680.0 636.0h3v6.0h-3zM685.0 641.0h3v81.0h-3zM689.0 721.0h3v54.0h-3zM694.0 774.0h3v2.0h-3zM703.0 761.0h3v1.0h-3zM707.0 761.0h3v5.0h-3zM716.0 752.0h3v10.0h-3zM725.0 760.0h3v7.0h-3zM734.0 762.0h3v12.0h-3zM748.0 727.0h3v3.0h-3zM752.0 729.0h3v2.0h-3zM761.0 725.0h3v13.0h-3zM770.0 729.0h3v22.0h-3zM774.0 750.0h3v15.0h-3zM783.0 749.0h3v15.0h-3zM797.0 744.0h3v3.0h-3zM806.0 729.0h3v8.0h-3zM815.0 736.0h3v4.0h-3zM819.0 739.0h3v25.0h-3zM828.0 741.0h3v14.0h-3zM846.0 696.0h3v28.0h-3zM850.0 723.0h3v28.0h-3zM859.0 744.0h3v4.0h-3zM868.0 741.0h3v12.0h-3zM873.0 752.0h3v12.0h-3zM886.0 752.0h3v15.0h-3zM891.0 766.0h3v50.0h-3zM895.0 815.0h3v26.0h-3zM899.0 841.0h3v23.0h-3zM917.0 847.0h3v18.0h-3zM922.0 864.0h3v40.0h-3zM940.0 864.0h3v9.0h-3zM962.0 836.0h3v6.0h-3zM980.0 829.0h3v34.0h-3zM989.0 858.0h3v2.0h-3zM993.0 860.0h3v2.0h-3zM998.0 861.0h3v13.0h-3zM1002.0 873.0h3v14.0h-3zM1020.0 836.0h3v6.0h-3zM1029.0 838.0h3v13.0h-3zM1038.0 836.0h3v13.0h-3zM1051.0 816.0h3v20.0h-3zM1056.0 835.0h3v16.0h-3zM1060.0 850.0h3v4.0h-3zM1069.0 853.0h3v15.0h-3zM1078.0 858.0h3v2.0h-3zM1087.0 853.0h3v19.0h-3zM1101.0 856.0h3v8.0h-3zM1119.0 854.0h3v1.0h-3zM1132.0 848.0h3v42.0h-3zM1141.0 887.0h3v14.0h-3zM1150.0 892.0h3v8.0h-3zM1163.0 891.0h3v4.0h-3zM1168.0 894.0h3v1.0h-3zM1172.0 895.0h3v4.0h-3zM1177.0 899.0h3v4.0h-3zM1190.0 900.0h3v6.0h-3zM1208.0 684.0h3v10.0h-3zM1212.0 694.0h3v12.0h-3zM1226.0 692.0h3v15.0h-3zM1239.0 693.0h3v6.0h-3zM1244.0 698.0h3v15.0h-3zM1253.0 709.0h3v8.0h-3zM1266.0 673.0h3v43.0h-3zM1275.0 713.0h3v12.0h-3zM1284.0 711.0h3v1.0h-3zM1288.0 711.0h3v9.0h-3zM1293.0 719.0h3v14.0h-3zM1302.0 729.0h3v9.0h-3zM1315.0 714.0h3v8.0h-3zM1324.0 711.0h3v10.0h-3zM1329.0 720.0h3v14.0h-3zM1333.0 733.0h3v8.0h-3zM1347.0 730.0h3v4.0h-3zM1351.0 733.0h3v6.0h-3zM1355.0 738.0h3v10.0h-3zM1369.0 732.0h3v11.0h-3zM1378.0 731.0h3v1.0h-3zM1382.0 731.0h3v2.0h-3zM1387.0 732.0h3v15.0h-3zM1405.0 722.0h3v3.0h-3zM1423.0 714.0h3v13.0h-3zM1436.0 712.0h3v16.0h-3zM1440.0 727.0h3v10.0h-3zM1476.0 499.0h3v2.0h-3zM1490.0 482.0h3v14.0h-3zM1503.0 434.0h3v50.0h-3zM1521.0 453.0h3v15.0h-3zM1539.0 441.0h3v9.0h-3zM1543.0 449.0h3v32.0h-3zM1552.0 478.0h3v7.0h-3zM1566.0 463.0h3v18.0h-3zM1592.0 439.0h3v15.0h-3zM1601.0 445.0h3v10.0h-3zM1624.0 265.0h3v25.0h-3zM1628.0 290.0h3v278.0h-3zM1633.0 567.0h3v9.0h-3zM1637.0 574.0h3v32.0h-3zM1646.0 572.0h3v15.0h-3zM1664.0 517.0h3v22.0h-3zM1673.0 534.0h3v31.0h-3zM1686.0 544.0h3v10.0h-3zM1691.0 553.0h3v2.0h-3zM1709.0 543.0h3v13.0h-3zM1718.0 551.0h3v3.0h-3zM1740.0 520.0h3v28.0h-3zM1744.0 547.0h3v13.0h-3zM1771.0 530.0h3v19.0h-3zM1780.0 540.0h3v20.0h-3zM1789.0 546.0h3v7.0h-3zM1811.0 544.0h3v3.0h-3zM1816.0 546.0h3v19.0h-3zM1825.0 561.0h3v4.0h-3zM1829.0 564.0h3v4.0h-3zM1834.0 567.0h3v50.0h-3zM1838.0 616.0h3v15.0h-3zM1852.0 630.0h3v3.0h-3zM1856.0 632.0h3v5.0h-3z" fill="#CE0000"/>
<path d="M11.0 525.0h1v44.0h-1zM15.0 570.0h1v22.0h-1zM20.0 593.0h1v10.0h-1zM33.0 546.0h1v55.0h-1zM47.0 597.0h1v3.0h-1zM51.0 600.0h1v105.0h-1zM56.0 706.0h1v14.0h-1zM96.0 468.0h1v34.0h-1zM105.0 499.0h1v23.0h-1zM109.0 523.0h1v86.0h-1zM127.0 535.0h1v16.0h-1zM141.0 531.0h1v35.0h-1zM149.0 568.0h1v30.0h-1zM158.0 578.0h1v61.0h-1zM167.0 640.0h1v7.0h-1zM181.0 631.0h1v18.0h-1zM194.0 534.0h1v18.0h-1zM199.0 553.0h1v4.0h-1zM221.0 482.0h1v15.0h-1zM225.0 498.0h1v18.0h-1zM230.0 517.0h1v9.0h-1zM239.0 523.0h1v46.0h-1zM257.0 549.0h1v21.0h-1zM261.0 571.0h1v21.0h-1zM279.0 519.0h1v16.0h-1zM288.0 526.0h1v5.0h-1zM297.0 518.0h1v36.0h-1zM301.0 554.0h1v2.0h-1zM306.0 557.0h1v5.0h-1zM315.0 530.0h1v2.0h-1zM324.0 354.0h1v7.0h-1zM337.0 367.0h1v12.0h-1zM342.0 381.0h1v4.0h-1zM351.0 377.0h1v12.0h-1zM355.0 391.0h1v18.0h-1zM373.0 368.0h1v16.0h-1zM377.0 385.0h1v14.0h-1zM386.0 380.0h1v2.0h-1zM395.0 373.0h1v30.0h-1zM404.0 385.0h1v5.0h-1zM413.0 385.0h1v167.0h-1zM418.0 553.0h1v10.0h-1zM422.0 564.0h1v5.0h-1zM427.0 570.0h1v112.0h-1zM431.0 683.0h1v8.0h-1zM436.0 692.0h1v1.0h-1zM445.0 679.0h1v2.0h-1zM458.0 672.0h1v11.0h-1zM467.0 679.0h1v14.0h-1zM471.0 694.0h1v5.0h-1zM485.0 689.0h1v7.0h-1zM494.0 694.0h1v8.0h-1zM503.0 698.0h1v2.0h-1zM507.0 701.0h1v86.0h-1zM525.0 763.0h1v9.0h-1zM538.0 650.0h1v11.0h-1zM547.0 658.0h1v1.0h-1zM552.0 660.0h1v13.0h-1zM556.0 674.0h1v13.0h-1zM565.0 686.0h1v41.0h-1zM574.0 716.0h1v12.0h-1zM588.0 701.0h1v15.0h-1zM597.0 705.0h1v17.0h-1zM623.0 681.0h1v12.0h-1zM632.0 690.0h1v14.0h-1zM641.0 693.0h1v19.0h-1zM655.0 695.0h1v2.0h-1zM664.0 618.0h1v9.0h-1zM673.0 629.0h1v17.0h-1zM681.0 637.0h1v4.0h-1zM686.0 642.0h1v79.0h-1zM690.0 722.0h1v52.0h-1zM708.0 762.0h1v3.0h-1zM717.0 753.0h1v8.0h-1zM726.0 761.0h1v5.0h-1zM735.0 763.0h1v10.0h-1zM749.0 728.0h1v1.0h-1zM762.0 726.0h1v11.0h-1zM771.0 730.0h1v20.0h-1zM775.0 751.0h1v13.0h-1zM784.0 750.0h1v13.0h-1zM798.0 745.0h1v1.0h-1zM807.0 730.0h1v6.0h-1zM816.0 737.0h1v2.0h-1zM820.0 740.0h1v23.0h-1zM829.0 742.0h1v12.0h-1zM847.0 697.0h1v26.0h-1zM851.0 724.0h1v26.0h-1zM860.0 745.0h1v2.0h-1zM869.0 742.0h1v10.0h-1zM874.0 753.0h1v10.0h-1zM887.0 753.0h1v13.0h-1zM892.0 767.0h1v48.0h-1zM896.0 816.0h1v24.0h-1zM900.0 842.0h1v21.0h-1zM918.0 848.0h1v16.0h-1zM923.0 865.0h1v38.0h-1zM941.0 865.0h1v7.0h-1zM963.0 837.0h1v4.0h-1zM981.0 830.0h1v32.0h-1zM999.0 862.0h1v11.0h-1zM1003.0 874.0h1v12.0h-1zM1021.0 837.0h1v4.0h-1zM1030.0 839.0h1v11.0h-1zM1039.0 837.0h1v11.0h-1zM1052.0 817.0h1v18.0h-1zM1057.0 836.0h1v14.0h-1zM1061.0 851.0h1v2.0h-1zM1070.0 854.0h1v13.0h-1zM1088.0 854.0h1v17.0h-1zM1102.0 857.0h1v6.0h-1zM1133.0 849.0h1v40.0h-1zM1142.0 888.0h1v12.0h-1zM1151.0 893.0h1v6.0h-1zM1164.0 892.0h1v2.0h-1zM1173.0 896.0h1v2.0h-1zM1178.0 900.0h1v2.0h-1zM1191.0 901.0h1v4.0h-1zM1209.0 685.0h1v8.0h-1zM1213.0 695.0h1v10.0h-1zM1227.0 693.0h1v13.0h-1zM1240.0 694.0h1v4.0h-1zM1245.0 699.0h1v13.0h-1zM1254.0 710.0h1v6.0h-1zM1267.0 674.0h1v41.0h-1zM1276.0 714.0h1v10.0h-1zM1289.0 712.0h1v7.0h-1zM1294.0 720.0h1v12.0h-1zM1303.0 730.0h1v7.0h-1zM1316.0 715.0h1v6.0h-1zM1325.0 712.0h1v8.0h-1zM1330.0 721.0h1v12.0h-1zM1334.0 734.0h1v6.0h-1zM1348.0 731.0h1v2.0h-1zM1352.0 734.0h1v4.0h-1zM1356.0 739.0h1v8.0h-1zM1370.0 733.0h1v9.0h-1zM1388.0 733.0h1v13.0h-1zM1406.0 723.0h1v1.0h-1zM1424.0 715.0h1v11.0h-1zM1437.0 713.0h1v14.0h-1zM1441.0 728.0h1v8.0h-1zM1491.0 483.0h1v12.0h-1zM1504.0 435.0h1v48.0h-1zM1522.0 454.0h1v13.0h-1zM1540.0 442.0h1v7.0h-1zM1544.0 450.0h1v30.0h-1zM1553.0 479.0h1v5.0h-1zM1567.0 464.0h1v16.0h-1zM1593.0 440.0h1v13.0h-1zM1602.0 446.0h1v8.0h-1zM1625.0 266.0h1v23.0h-1zM1629.0 291.0h1v276.0h-1zM1634.0 568.0h1v7.0h-1zM1638.0 575.0h1v30.0h-1zM1647.0 573.0h1v13.0h-1zM1665.0 518.0h1v20.0h-1zM1674.0 535.0h1v29.0h-1zM1687.0 545.0h1v8.0h-1zM1710.0 544.0h1v11.0h-1zM1719.0 552.0h1v1.0h-1zM1741.0 521.0h1v26.0h-1zM1745.0 548.0h1v11.0h-1zM1772.0 531.0h1v17.0h-1zM1781.0 541.0h1v18.0h-1zM1790.0 547.0h1v5.0h-1zM1812.0 545.0h1v1.0h-1zM1817.0 547.0h1v17.0h-1zM1826.0 562.0h1v2.0h-1zM1830.0 565.0h1v2.0h-1zM1835.0 568.0h1v48.0h-1zM1839.0 617.0h1v13.0h-1zM1853.0 631.0h1v1.0h-1zM1857.0 633.0h1v3.0h-1z" fill="#FF0000"/>
<line x1="0" y1="625.5" x2="2396" y2="625.5" stroke="#12C040" stroke-width="1" stroke-dasharray="2 1"/>
<g stroke="#0DA75C" stroke-width="3.2" fill="none" stroke-linecap="butt" stroke-linejoin="miter"><line x1="1875.7" y1="616.8" x2="1937.2" y2="502.5"/><polyline points="1923.5,509.6 1937.5,501.8 1938.6,518.4"/></g>
<text transform="translate(1599.1,196) scale(1,1.068)" x="0" y="0" font-family="'DejaVu Sans','Liberation Sans',sans-serif" font-weight="bold" font-size="20" fill="#000">HH</text>
<text transform="translate(352.0,276) scale(1,1.068)" x="0" y="0" font-family="'DejaVu Sans','Liberation Sans',sans-serif" font-weight="bold" font-size="20" fill="#000">LH</text>
<text transform="translate(642.2,549) scale(1,1.068)" x="0" y="0" font-family="'DejaVu Sans','Liberation Sans',sans-serif" font-weight="bold" font-size="20" fill="#000">LH</text>
<text transform="translate(1183.1,598) scale(1,1.068)" x="0" y="0" font-family="'DejaVu Sans','Liberation Sans',sans-serif" font-weight="bold" font-size="20" fill="#000">LH</text>
<text transform="translate(39.1,756) scale(1,1.068)" x="0" y="0" font-family="'DejaVu Sans','Liberation Sans',sans-serif" font-weight="bold" font-size="20" fill="#000">LL</text>
<text transform="translate(490.1,834) scale(1,1.068)" x="0" y="0" font-family="'DejaVu Sans','Liberation Sans',sans-serif" font-weight="bold" font-size="20" fill="#000">LL</text>
<text transform="translate(1129.1,936) scale(1,1.068)" x="0" y="0" font-family="'DejaVu Sans','Liberation Sans',sans-serif" font-weight="bold" font-size="20" fill="#000">LL</text>
<text transform="translate(1353.1,795) scale(1,1.068)" x="0" y="0" font-family="'DejaVu Sans','Liberation Sans',sans-serif" font-weight="bold" font-size="20" fill="#000">HL</text>
<text transform="translate(1822,711) scale(1,1.068)" x="0" y="0" font-family="'DejaVu Sans','Liberation Sans',sans-serif" font-weight="bold" font-size="20" fill="#000">HL??</text>
<text x="2392" y="392.0" text-anchor="end" font-family="'DejaVu Sans','Liberation Sans',sans-serif" font-size="10" fill="#222">Round nr.</text>
<text x="2392" y="788.0" text-anchor="end" font-family="'DejaVu Sans','Liberation Sans',sans-serif" font-size="10" fill="#222">Round nr.</text>
<line x1="0" y1="1044.5" x2="2454" y2="1044.5" stroke="#555555" stroke-width="1"/>
<line x1="0" y1="1120.5" x2="2454" y2="1120.5" stroke="#555555" stroke-width="1"/>
<rect x="2398" y="1045" width="56" height="75" fill="#fff"/>
<line x1="2397.5" y1="0" x2="2397.5" y2="1147" stroke="#555555" stroke-width="1"/>
<text x="2406.5" y="19.2" font-family="'Liberation Sans',Arial,sans-serif" font-size="11" fill="#555555">4480.00</text>
<text x="2406.5" y="50.9" font-family="'Liberation Sans',Arial,sans-serif" font-size="11" fill="#555555">4440.00</text>
<text x="2406.5" y="82.6" font-family="'Liberation Sans',Arial,sans-serif" font-size="11" fill="#555555">4400.00</text>
<text x="2406.5" y="114.4" font-family="'Liberation Sans',Arial,sans-serif" font-size="11" fill="#555555">4360.00</text>
<text x="2406.5" y="146.1" font-family="'Liberation Sans',Arial,sans-serif" font-size="11" fill="#555555">4320.00</text>
<text x="2406.5" y="177.8" font-family="'Liberation Sans',Arial,sans-serif" font-size="11" fill="#555555">4280.00</text>
<text x="2406.5" y="209.5" font-family="'Liberation Sans',Arial,sans-serif" font-size="11" fill="#555555">4240.00</text>
<text x="2406.5" y="241.2" font-family="'Liberation Sans',Arial,sans-serif" font-size="11" fill="#555555">4200.00</text>
<text x="2406.5" y="273.0" font-family="'Liberation Sans',Arial,sans-serif" font-size="11" fill="#555555">4160.00</text>
<text x="2406.5" y="304.7" font-family="'Liberation Sans',Arial,sans-serif" font-size="11" fill="#555555">4120.00</text>
<text x="2406.5" y="336.4" font-family="'Liberation Sans',Arial,sans-serif" font-size="11" fill="#555555">4080.00</text>
<text x="2406.5" y="368.1" font-family="'Liberation Sans',Arial,sans-serif" font-size="11" fill="#555555">4040.00</text>
<text x="2406.5" y="399.8" font-family="'Liberation Sans',Arial,sans-serif" font-size="11" fill="#555555">4000.00</text>
<text x="2406.5" y="431.5" font-family="'Liberation Sans',Arial,sans-serif" font-size="11" fill="#555555">3960.00</text>
<text x="2406.5" y="463.3" font-family="'Liberation Sans',Arial,sans-serif" font-size="11" fill="#555555">3920.00</text>
<text x="2406.5" y="495.0" font-family="'Liberation Sans',Arial,sans-serif" font-size="11" fill="#555555">3880.00</text>
<text x="2406.5" y="526.7" font-family="'Liberation Sans',Arial,sans-serif" font-size="11" fill="#555555">3840.00</text>
<text x="2406.5" y="558.4" font-family="'Liberation Sans',Arial,sans-serif" font-size="11" fill="#555555">3800.00</text>
<text x="2406.5" y="590.1" font-family="'Liberation Sans',Arial,sans-serif" font-size="11" fill="#555555">3760.00</text>
<text x="2406.5" y="621.9" font-family="'Liberation Sans',Arial,sans-serif" font-size="11" fill="#555555">3720.00</text>
<text x="2406.5" y="653.6" font-family="'Liberation Sans',Arial,sans-serif" font-size="11" fill="#555555">3680.00</text>
<text x="2406.5" y="685.3" font-family="'Liberation Sans',Arial,sans-serif" font-size="11" fill="#555555">3640.00</text>
<text x="2406.5" y="717.0" font-family="'Liberation Sans',Arial,sans-serif" font-size="11" fill="#555555">3600.00</text>
<text x="2406.5" y="748.7" font-family="'Liberation Sans',Arial,sans-serif" font-size="11" fill="#555555">3560.00</text>
<text x="2406.5" y="780.5" font-family="'Liberation Sans',Arial,sans-serif" font-size="11" fill="#555555">3520.00</text>
<text x="2406.5" y="812.2" font-family="'Liberation Sans',Arial,sans-serif" font-size="11" fill="#555555">3480.00</text>
<text x="2406.5" y="843.9" font-family="'Liberation Sans',Arial,sans-serif" font-size="11" fill="#555555">3440.00</text>
<text x="2406.5" y="875.6" font-family="'Liberation Sans',Arial,sans-serif" font-size="11" fill="#555555">3400.00</text>
<text x="2406.5" y="907.3" font-family="'Liberation Sans',Arial,sans-serif" font-size="11" fill="#555555">3360.00</text>
<text x="2406.5" y="939.0" font-family="'Liberation Sans',Arial,sans-serif" font-size="11" fill="#555555">3320.00</text>
<text x="2406.5" y="970.8" font-family="'Liberation Sans',Arial,sans-serif" font-size="11" fill="#555555">3280.00</text>
<text x="2406.5" y="1002.5" font-family="'Liberation Sans',Arial,sans-serif" font-size="11" fill="#555555">3240.00</text>
<text x="2406.5" y="1034.2" font-family="'Liberation Sans',Arial,sans-serif" font-size="11" fill="#555555">3200.00</text>
<text x="2406.5" y="1061.3" font-family="'Liberation Sans',Arial,sans-serif" font-size="11" fill="#555555">80.0000</text>
<text x="2406.5" y="1099.5" font-family="'Liberation Sans',Arial,sans-serif" font-size="11" fill="#555555">40.0000</text>
<path d="M2398 14.5h4M2398 46.5h4M2398 78.5h4M2398 109.5h4M2398 141.5h4M2398 173.5h4M2398 205.5h4M2398 236.5h4M2398 268.5h4M2398 300.5h4M2398 331.5h4M2398 363.5h4M2398 395.5h4M2398 427.5h4M2398 458.5h4M2398 490.5h4M2398 522.5h4M2398 553.5h4M2398 585.5h4M2398 617.5h4M2398 649.5h4M2398 680.5h4M2398 712.5h4M2398 744.5h4M2398 775.5h4M2398 807.5h4M2398 839.5h4M2398 871.5h4M2398 902.5h4M2398 934.5h4M2398 966.5h4M2398 997.5h4M2398 1029.5h4M2398 1056.5h4M2398 1095.5h4" stroke="#555555" stroke-width="1" fill="none"/>
<rect x="2397" y="-10" width="57" height="17" fill="#FF0000"/>
<path d="M2397 -1.5h4" stroke="#fff" stroke-width="1"/>
<text x="2406" y="2" font-family="'Liberation Sans',Arial,sans-serif" font-weight="bold" font-size="11" letter-spacing="-0.05" fill="#fff">4500.00</text>
<rect x="2397" y="216" width="57" height="17" fill="#FF9800"/>
<path d="M2397 224.5h4" stroke="#fff" stroke-width="1"/>
<text x="2406" y="228" font-family="'Liberation Sans',Arial,sans-serif" font-weight="bold" font-size="11" letter-spacing="-0.05" fill="#fff">4215.00</text>
<rect x="2397" y="317" width="57" height="17" fill="#FF9800"/>
<path d="M2397 325.5h4" stroke="#fff" stroke-width="1"/>
<text x="2406" y="329" font-family="'Liberation Sans',Arial,sans-serif" font-weight="bold" font-size="11" letter-spacing="-0.05" fill="#fff">4088.00</text>
<rect x="2397" y="387" width="57" height="17" fill="#FF0000"/>
<path d="M2397 395.5h4" stroke="#fff" stroke-width="1"/>
<text x="2406" y="399" font-family="'Liberation Sans',Arial,sans-serif" font-weight="bold" font-size="11" letter-spacing="-0.05" fill="#fff">4000.00</text>
<rect x="2397" y="572" width="57" height="17" fill="#FF9800"/>
<path d="M2397 580.5h4" stroke="#fff" stroke-width="1"/>
<text x="2406" y="584" font-family="'Liberation Sans',Arial,sans-serif" font-weight="bold" font-size="11" letter-spacing="-0.05" fill="#fff">3765.90</text>
<rect x="2397" y="616" width="56" height="17" fill="#FF9800"/>
<path d="M2397 624.5h4" stroke="#fff" stroke-width="1"/>
<text x="2406" y="628" font-family="'Liberation Sans',Arial,sans-serif" font-weight="bold" font-size="11" letter-spacing="-0.05" fill="#fff">3711.00</text>
<rect x="2397" y="633" width="56" height="17" fill="#22B14C"/>
<path d="M2397 641.5h4" stroke="#fff" stroke-width="1"/>
<text x="2406" y="645" font-family="'Liberation Sans',Arial,sans-serif" font-weight="bold" font-size="11" letter-spacing="-0.05" fill="#fff">3709.51</text>
<rect x="2398" y="651" width="55" height="17" fill="#22B14C"/>
<text x="2423.3" y="663" text-anchor="middle" font-family="'Liberation Sans',Arial,sans-serif" font-weight="bold" font-size="11" letter-spacing="-0.05" fill="#fff">01:04:02</text>
<rect x="2397" y="783" width="57" height="17" fill="#FF0000"/>
<path d="M2397 791.5h4" stroke="#fff" stroke-width="1"/>
<text x="2406" y="795" font-family="'Liberation Sans',Arial,sans-serif" font-weight="bold" font-size="11" letter-spacing="-0.05" fill="#fff">3500.00</text>
<rect x="2397" y="1096" width="57" height="17" fill="#000000"/>
<path d="M2397 1104.5h4" stroke="#fff" stroke-width="1"/>
<text x="2406" y="1108" font-family="'Liberation Sans',Arial,sans-serif" font-weight="bold" font-size="11" letter-spacing="-0.05" fill="#fff">31.5886</text>
<clipPath id="tc"><rect x="0" y="1121" width="2396" height="26"/></clipPath>
<g clip-path="url(#tc)">
<text x="34.0" y="1139" text-anchor="middle" font-family="'Liberation Sans',Arial,sans-serif" font-size="11" fill="#555555">27</text>
<text x="168.0" y="1139" text-anchor="middle" font-family="'Liberation Sans',Arial,sans-serif" font-size="11" font-weight="bold" fill="#555555">2019</text>
<text x="249.0" y="1139" text-anchor="middle" font-family="'Liberation Sans',Arial,sans-serif" font-size="11" fill="#555555">4</text>
<text x="329.0" y="1139" text-anchor="middle" font-family="'Liberation Sans',Arial,sans-serif" font-size="11" fill="#555555">7</text>
<text x="410.0" y="1139" text-anchor="middle" font-family="'Liberation Sans',Arial,sans-serif" font-size="11" fill="#555555">10</text>
<text x="517.0" y="1139" text-anchor="middle" font-family="'Liberation Sans',Arial,sans-serif" font-size="11" fill="#555555">14</text>
<text x="598.0" y="1139" text-anchor="middle" font-family="'Liberation Sans',Arial,sans-serif" font-size="11" fill="#555555">17</text>
<text x="705.0" y="1139" text-anchor="middle" font-family="'Liberation Sans',Arial,sans-serif" font-size="11" fill="#555555">21</text>
<text x="785.0" y="1139" text-anchor="middle" font-family="'Liberation Sans',Arial,sans-serif" font-size="11" fill="#555555">24</text>
<text x="893.0" y="1139" text-anchor="middle" font-family="'Liberation Sans',Arial,sans-serif" font-size="11" fill="#555555">28</text>
<text x="1000.0" y="1139" text-anchor="middle" font-family="'Liberation Sans',Arial,sans-serif" font-size="11" fill="#555555">Feb</text>
<text x="1080.0" y="1139" text-anchor="middle" font-family="'Liberation Sans',Arial,sans-serif" font-size="11" fill="#555555">4</text>
<text x="1161.0" y="1139" text-anchor="middle" font-family="'Liberation Sans',Arial,sans-serif" font-size="11" fill="#555555">7</text>
<text x="1268.0" y="1139" text-anchor="middle" font-family="'Liberation Sans',Arial,sans-serif" font-size="11" fill="#555555">11</text>
<text x="1349.0" y="1139" text-anchor="middle" font-family="'Liberation Sans',Arial,sans-serif" font-size="11" fill="#555555">14</text>
<text x="1456.0" y="1139" text-anchor="middle" font-family="'Liberation Sans',Arial,sans-serif" font-size="11" fill="#555555">18</text>
<text x="1536.0" y="1139" text-anchor="middle" font-family="'Liberation Sans',Arial,sans-serif" font-size="11" fill="#555555">21</text>
<text x="1644.0" y="1139" text-anchor="middle" font-family="'Liberation Sans',Arial,sans-serif" font-size="11" fill="#555555">25</text>
<text x="1751.0" y="1139" text-anchor="middle" font-family="'Liberation Sans',Arial,sans-serif" font-size="11" fill="#555555">Mar</text>
<text x="1831.0" y="1139" text-anchor="middle" font-family="'Liberation Sans',Arial,sans-serif" font-size="11" fill="#555555">4</text>
<text x="1912.0" y="1139" text-anchor="middle" font-family="'Liberation Sans',Arial,sans-serif" font-size="11" fill="#555555">7</text>
<text x="2019.0" y="1139" text-anchor="middle" font-family="'Liberation Sans',Arial,sans-serif" font-size="11" fill="#555555">11</text>
<text x="2100.0" y="1139" text-anchor="middle" font-family="'Liberation Sans',Arial,sans-serif" font-size="11" fill="#555555">14</text>
<text x="2207.0" y="1139" text-anchor="middle" font-family="'Liberation Sans',Arial,sans-serif" font-size="11" fill="#555555">18</text>
<text x="2287.0" y="1139" text-anchor="middle" font-family="'Liberation Sans',Arial,sans-serif" font-size="11" fill="#555555">21</text>
<text x="2395.0" y="1139" text-anchor="middle" font-family="'Liberation Sans',Arial,sans-serif" font-size="11" fill="#555555">25</text>
</g>
<path d="M34.5 1121v3.5M168.5 1121v3.5M249.5 1121v3.5M329.5 1121v3.5M410.5 1121v3.5M517.5 1121v3.5M598.5 1121v3.5M705.5 1121v3.5M785.5 1121v3.5M893.5 1121v3.5M1000.5 1121v3.5M1080.5 1121v3.5M1161.5 1121v3.5M1268.5 1121v3.5M1349.5 1121v3.5M1456.5 1121v3.5M1536.5 1121v3.5M1644.5 1121v3.5M1751.5 1121v3.5M1831.5 1121v3.5M1912.5 1121v3.5M2019.5 1121v3.5M2100.5 1121v3.5M2207.5 1121v3.5M2287.5 1121v3.5M2395.5 1121v3.5" stroke="#555555" stroke-width="1" fill="none"/>
<line x1="0" y1="1066.5" x2="2397" y2="1066.5" stroke="#bdbdbd" stroke-width="1" stroke-dasharray="6 5"/>
<line x1="0" y1="1105.5" x2="2397" y2="1105.5" stroke="#bdbdbd" stroke-width="1" stroke-dasharray="6 5"/>
<polyline points="2.5,1092.3 6.5,1088.0 11.5,1091.6 15.5,1093.4 20.5,1094.2 24.5,1088.9 29.5,1088.1 33.5,1093.0 38.5,1092.5 42.5,1092.4 47.5,1092.9 51.5,1101.4 56.5,1102.4 60.5,1101.5 65.5,1100.6 69.5,1096.6 73.5,1080.7 78.5,1076.9 82.5,1076.7 87.5,1077.0 91.5,1075.4 96.5,1079.9 100.5,1079.4 105.5,1082.6 109.5,1091.7 114.5,1091.1 118.5,1089.2 123.5,1083.1 127.5,1085.2 132.5,1084.9 136.5,1082.6 141.5,1087.2 145.5,1087.3 149.5,1091.0 154.5,1088.0 158.5,1094.9 163.5,1094.8 167.5,1095.7 172.5,1093.0 176.5,1092.9 181.5,1095.3 185.5,1092.3 190.5,1078.7 194.5,1081.5 199.5,1082.2 203.5,1080.7 208.5,1080.0 212.5,1077.0 217.5,1072.9 221.5,1076.0 225.5,1079.3 230.5,1081.0 234.5,1080.3 239.5,1088.2 243.5,1087.1 248.5,1085.4 252.5,1084.5 257.5,1088.5 261.5,1092.0 266.5,1090.3 270.5,1082.1 275.5,1079.2 279.5,1082.6 284.5,1080.9 288.5,1082.2 293.5,1079.7 297.5,1086.9 301.5,1087.3 306.5,1088.4 310.5,1082.0 315.5,1082.8 319.5,1063.2 324.5,1064.9 328.5,1065.3 333.5,1065.7 337.5,1068.5 342.5,1069.8 346.5,1068.6 351.5,1071.8 355.5,1075.9 360.5,1075.9 364.5,1070.3 369.5,1070.6 373.5,1074.5 377.5,1078.0 382.5,1074.8 386.5,1075.6 391.5,1074.0 395.5,1081.2 400.5,1078.0 404.5,1079.7 409.5,1078.3 413.5,1102.4 418.5,1103.3 422.5,1103.9 427.5,1111.6 431.5,1112.1 436.5,1112.3 440.5,1109.1 445.5,1109.4 449.5,1109.4 453.5,1106.9 458.5,1108.1 462.5,1106.7 467.5,1108.2 471.5,1108.8 476.5,1105.5 480.5,1105.6 485.5,1106.6 489.5,1105.4 494.5,1106.7 498.5,1104.7 503.5,1105.3 507.5,1114.7 512.5,1112.3 516.5,1110.5 521.5,1106.8 525.5,1108.1 529.5,1083.5 534.5,1082.4 538.5,1084.6 543.5,1083.6 547.5,1084.3 552.5,1086.9 556.5,1089.5 561.5,1088.8 565.5,1096.0 570.5,1093.1 574.5,1095.4 579.5,1089.2 583.5,1089.3 588.5,1092.2 592.5,1089.3 597.5,1092.7 601.5,1091.2 605.5,1090.2 610.5,1087.5 614.5,1085.2 619.5,1082.7 623.5,1086.1 628.5,1084.9 632.5,1088.9 637.5,1085.5 641.5,1090.5 646.5,1088.6 650.5,1085.4 655.5,1086.5 659.5,1070.7 664.5,1073.5 668.5,1073.8 673.5,1078.5 677.5,1076.6 681.5,1078.1 686.5,1094.3 690.5,1101.1 695.5,1101.2 699.5,1098.1 704.5,1098.1 708.5,1098.7 713.5,1095.2 717.5,1096.8 722.5,1096.3 726.5,1097.5 731.5,1096.1 735.5,1098.4 740.5,1093.0 744.5,1085.6 749.5,1086.3 753.5,1086.5 757.5,1084.9 762.5,1088.4 766.5,1085.9 771.5,1091.5 775.5,1094.7 780.5,1090.0 784.5,1093.4 789.5,1090.5 793.5,1087.6 798.5,1088.4 802.5,1083.3 807.5,1085.6 811.5,1085.3 816.5,1086.6 820.5,1093.3 825.5,1086.2 829.5,1089.9 833.5,1086.1 838.5,1084.2 842.5,1075.1 847.5,1082.8 851.5,1089.0 856.5,1087.3 860.5,1088.2 865.5,1086.4 869.5,1089.4 874.5,1091.9 878.5,1091.1 883.5,1088.3 887.5,1092.2 892.5,1101.7 896.5,1105.4 900.5,1108.2 905.5,1106.5 909.5,1106.1 914.5,1102.6 918.5,1105.4 923.5,1110.3 927.5,1105.9 932.5,1099.2 936.5,1098.3 941.5,1099.8 945.5,1097.7 950.5,1096.5 954.5,1095.6 959.5,1088.6 963.5,1089.9 968.5,1089.8 972.5,1087.0 976.5,1086.0 981.5,1095.0 985.5,1093.5 990.5,1094.1 994.5,1094.3 999.5,1097.5 1003.5,1100.6 1008.5,1089.0 1012.5,1086.6 1017.5,1083.6 1021.5,1085.4 1026.5,1084.3 1030.5,1088.3 1035.5,1084.0 1039.5,1087.6 1044.5,1085.8 1048.5,1078.1 1052.5,1084.3 1057.5,1088.5 1061.5,1089.3 1066.5,1089.1 1070.5,1093.2 1075.5,1090.2 1079.5,1090.4 1084.5,1087.9 1088.5,1093.6 1093.5,1089.7 1097.5,1087.9 1102.5,1090.3 1106.5,1088.6 1111.5,1087.8 1115.5,1086.6 1120.5,1087.1 1124.5,1085.6 1128.5,1083.7 1133.5,1098.7 1137.5,1097.5 1142.5,1101.2 1146.5,1097.1 1151.5,1099.2 1155.5,1097.4 1160.5,1095.1 1164.5,1096.3 1169.5,1096.5 1173.5,1097.6 1178.5,1099.4 1182.5,1099.0 1187.5,1097.6 1191.5,1099.5 1196.5,1083.3 1200.5,1069.1 1204.5,1053.0 1209.5,1056.1 1213.5,1059.3 1218.5,1058.3 1222.5,1058.1 1227.5,1062.8 1231.5,1062.2 1236.5,1061.3 1240.5,1063.2 1245.5,1068.0 1249.5,1067.5 1254.5,1070.1 1258.5,1068.1 1263.5,1063.4 1267.5,1076.2 1272.5,1075.8 1276.5,1078.9 1280.5,1076.2 1285.5,1076.5 1289.5,1078.8 1294.5,1082.6 1298.5,1081.4 1303.5,1084.2 1307.5,1083.0 1312.5,1078.1 1316.5,1080.6 1321.5,1077.9 1325.5,1081.1 1330.5,1085.2 1334.5,1087.3 1339.5,1085.5 1343.5,1083.9 1348.5,1085.2 1352.5,1086.9 1356.5,1090.0 1361.5,1086.8 1365.5,1084.1 1370.5,1088.1 1374.5,1083.8 1379.5,1084.0 1383.5,1084.4 1388.5,1090.0 1392.5,1086.4 1397.5,1086.4 1401.5,1080.1 1406.5,1081.3 1410.5,1079.5 1415.5,1077.6 1419.5,1077.2 1424.5,1083.9 1428.5,1080.9 1432.5,1077.8 1437.5,1085.4 1441.5,1089.2 1446.5,1088.5 1450.5,1073.3 1455.5,1063.6 1459.5,1063.0 1464.5,1061.3 1468.5,1053.4 1473.5,1050.6 1477.5,1051.1 1482.5,1051.0 1486.5,1050.0 1491.5,1054.9 1495.5,1051.1 1500.5,1051.0 1504.5,1065.2 1508.5,1064.9 1513.5,1064.8 1517.5,1062.0 1522.5,1066.2 1526.5,1064.7 1531.5,1063.4 1535.5,1063.2 1540.5,1066.0 1544.5,1074.8 1549.5,1074.4 1553.5,1076.3 1558.5,1074.6 1562.5,1072.3 1567.5,1077.5 1571.5,1072.5 1576.5,1071.9 1580.5,1071.0 1584.5,1070.4 1589.5,1070.1 1593.5,1075.4 1598.5,1073.4 1602.5,1076.9 1607.5,1058.6 1611.5,1057.9 1616.5,1055.1 1620.5,1055.0 1625.5,1062.0 1629.5,1098.6 1634.5,1099.2 1638.5,1101.3 1643.5,1097.0 1647.5,1098.2 1652.5,1096.0 1656.5,1094.8 1660.5,1089.2 1665.5,1091.4 1669.5,1090.8 1674.5,1094.0 1678.5,1093.6 1683.5,1091.0 1687.5,1092.1 1692.5,1092.3 1696.5,1092.0 1701.5,1090.9 1705.5,1090.1 1710.5,1092.2 1714.5,1091.1 1719.5,1091.6 1723.5,1091.0 1728.5,1090.7 1732.5,1087.2 1736.5,1083.5 1741.5,1089.8 1745.5,1092.1 1750.5,1089.2 1754.5,1088.7 1759.5,1088.4 1763.5,1087.3 1768.5,1084.2 1772.5,1089.3 1777.5,1086.8 1781.5,1091.8 1786.5,1087.8 1790.5,1089.6 1795.5,1087.8 1799.5,1087.5 1804.5,1087.1 1808.5,1086.8 1812.5,1087.8 1817.5,1093.7 1821.5,1092.0 1826.5,1093.3 1830.5,1094.3 1835.5,1106.2 1839.5,1108.6 1844.5,1108.0 1848.5,1108.0 1853.5,1108.6 1857.5,1109.3 1862.5,1103.0" fill="none" stroke="#000" stroke-width="1.1" stroke-linejoin="round"/>
<text x="8" y="1066" font-family="'Liberation Sans',Arial,sans-serif" font-size="11.8" fill="#6a6a6a">RSI (14, close)</text>
<text x="8.6" y="20.8" font-family="'Liberation Sans',Arial,sans-serif" font-size="12.5" fill="#4a4a4a" stroke="#4a4a4a" stroke-width="0.6" textLength="207.3" lengthAdjust="spacingAndGlyphs">Bitcoin / U.S. Dollar, 240, COINBASE</text>
</svg>
</body></html>
